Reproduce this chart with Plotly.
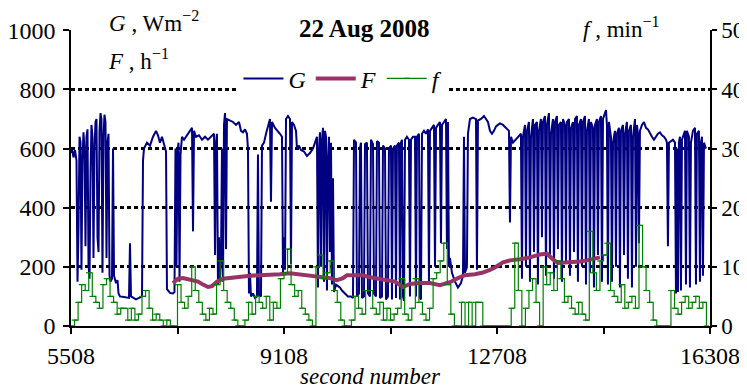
import plotly.graph_objects as go

# ---------------- data ----------------
# G : global irradiance, W m^-2 (left axis), irregular sample times (s)
g_time = [
    5508, 5525, 5550, 5576, 5601, 5618, 5635, 5652, 5669, 5685, 5702, 5719, 5736, 5753, 5770, 5787,
    5804, 5821, 5838, 5854, 5871, 5888, 5905, 5922, 5939, 5956, 5973, 5990, 6007, 6023, 6040, 6057,
    6074, 6091, 6108, 6125, 6142, 6159, 6176, 6201, 6218, 6235, 6269, 6294, 6311, 6336, 6404, 6488,
    6505, 6522, 6607, 6674, 6708, 6725, 6742, 6792, 6843, 6894, 6945, 6978, 7012, 7046, 7080, 7114,
    7130, 7181, 7232, 7257, 7274,
    7291, 7308, 7325, 7342, 7359, 7384, 7418, 7452, 7485, 7519, 7553, 7570, 7587, 7621, 7671, 7722,
    7773, 7823, 7874, 7925, 7942, 7959, 7975, 7992, 8009, 8026, 8043, 8060, 8077, 8094, 8111, 8128,
    8144, 8195, 8246, 8297, 8347, 8381, 8415, 8449, 8482, 8499, 8516, 8533, 8550, 8584, 8618, 8651,
    8668, 8685, 8719, 8736, 8770, 8804, 8837, 8871, 8888, 8905, 8956, 9006, 9040, 9074, 9091, 9108,
    9125, 9142, 9175,
    9209, 9226, 9243, 9277, 9311, 9327, 9361, 9395, 9446, 9496, 9547, 9598, 9632, 9665, 9682, 9699,
    9716, 9733, 9750, 9767, 9784, 9801, 9818, 9834, 9851, 9868, 9885, 9902, 9919, 9936, 9953, 9987,
    10020, 10054, 10088, 10139, 10189, 10240, 10274, 10291, 10325, 10341, 10375, 10392, 10409, 10426,
    10460, 10477, 10510, 10527, 10561, 10578, 10612, 10629, 10663, 10679, 10713, 10730, 10764, 10781,
    10815, 10832, 10865, 10882, 10916,
    10933, 10950, 10984, 11001, 11017, 11051, 11068, 11085, 11102, 11119, 11136, 11153, 11186, 11220,
    11237, 11254, 11288, 11322, 11339, 11355, 11389, 11406, 11423, 11440, 11474, 11508, 11541, 11558,
    11575, 11609, 11643, 11660, 11677, 11710, 11744, 11761, 11778, 11812, 11846, 11862, 11879, 11896,
    11913, 11947, 11998, 12048, 12099, 12133, 12150, 12167, 12200, 12217, 12251, 12302, 12353, 12369,
    12386, 12437, 12488, 12522, 12555, 12589, 12623, 12657, 12691, 12724,
    12758, 12809, 12860, 12910, 12927, 12944, 12978, 13029, 13079, 13113, 13130, 13147, 13181, 13198,
    13214, 13248, 13265, 13282, 13316, 13333, 13350, 13383, 13400, 13417, 13451, 13468, 13485, 13519,
    13536, 13552, 13586, 13603, 13620, 13654, 13671, 13688, 13721, 13738, 13755, 13789, 13806, 13823,
    13857, 13874, 13890, 13924, 13941, 13958, 13992, 14009, 14026, 14059, 14076, 14093, 14127, 14144,
    14161, 14195, 14212, 14228, 14262, 14279, 14296, 14330, 14347, 14364, 14397, 14414, 14431, 14465,
    14482, 14499, 14533,
    14550, 14566, 14583, 14600, 14634, 14651, 14668, 14702, 14719, 14735, 14769, 14786, 14803, 14837,
    14854, 14871, 14904, 14921, 14938, 14972, 14989, 15006, 15040, 15057, 15073, 15090, 15107, 15124,
    15158, 15192, 15226, 15259, 15293, 15327, 15361, 15395, 15428, 15462, 15496, 15530, 15564, 15580,
    15597, 15614, 15648, 15682, 15716, 15733, 15749, 15766, 15783, 15800, 15817, 15834, 15868, 15885,
    15902, 15918, 15952, 15969, 15986, 16020, 16054, 16071, 16087, 16121, 16138, 16155, 16172, 16189,
    16206, 16240,
]
g_value = [
    585, 600, 570, 595, 560, 150, 330, 640, 620, 190, 560, 655, 600, 270, 640, 665,
    210, 160, 520, 680, 640, 230, 600, 690, 700, 300, 250, 660, 720, 700, 180, 640,
    715, 690, 230, 620, 650, 170, 150, 160, 600, 170, 145, 155, 110, 100, 98, 95,
    280, 100, 90, 95, 100, 560, 600, 620, 610, 640, 660, 645, 620, 640, 610, 590,
    125, 112, 110, 115, 600,
    200, 590, 620, 150, 580, 640, 630, 640, 650, 660, 670, 320, 660, 640, 645, 630,
    640, 630, 640, 650, 240, 620, 650, 140, 300, 150, 230, 600, 150, 680, 720, 260,
    700, 695, 690, 680, 690, 660, 655, 665, 650, 600, 110, 180, 100, 110, 95, 100,
    580, 105, 100, 610, 620, 650, 680, 700, 420, 690, 670, 660, 650, 640, 180, 300,
    190, 700, 710,
    700, 210, 690, 680, 660, 600, 610, 595, 590, 575, 585, 600, 620, 640, 130, 600,
    655, 200, 630, 670, 150, 660, 640, 120, 560, 640, 250, 620, 140, 500, 115, 140,
    135, 130, 120, 110, 100, 100, 95, 630, 620, 100, 110, 600, 620, 95,
    100, 615, 620, 110, 100, 630, 615, 110, 100, 625, 620, 95, 100, 610,
    600, 90, 100, 600, 610,
    90, 600, 610, 95, 610, 620, 90, 620, 630, 100, 85, 630, 640, 630,
    100, 630, 640, 640, 100, 640, 650, 95, 90, 650, 660, 650, 665, 150,
    660, 670, 680, 200, 670, 680, 690, 280, 680, 690, 700, 260, 690, 200,
    230, 180, 150, 130, 145, 170, 640, 180, 200, 650, 700, 705, 700, 190,
    695, 700, 710, 700, 690, 660, 650, 660, 675, 680,
    685, 680, 670, 660, 350, 640, 620, 630, 640, 650, 160, 640, 680, 200,
    660, 690, 150, 640, 700, 250, 680, 690, 140, 660, 700, 300, 690, 710,
    170, 680, 720, 230, 650, 700, 160, 690, 710, 260, 680, 690, 150, 700,
    680, 220, 690, 700, 170, 670, 690, 250, 700, 710, 150, 680, 700, 200,
    690, 710, 140, 660, 700, 180, 690, 670, 130, 680, 700, 240, 690, 710,
    150, 700, 720,
    730, 680, 140, 690, 640, 150, 620, 660, 200, 650, 670, 130, 660, 680,
    240, 650, 690, 160, 660, 680, 130, 640, 700, 200, 680, 650, 280, 660,
    680, 690, 670, 665, 650, 640, 630, 640, 650, 655, 645, 640, 630, 620,
    270, 620, 625, 630, 620, 110, 600, 115, 620, 640, 120, 630, 650, 660,
    140, 660, 640, 130, 620, 660, 670, 140, 650, 660, 150, 620, 640, 170,
    620, 600,
]

# F : h^-1 (left axis)
F_time = [7232, 7316, 7401, 7485, 7570, 7654, 7739, 7823, 7891, 7975, 8077, 8195, 8364, 8533,
          8702, 8871, 9040, 9209, 9378, 9547, 9716, 9885, 10003, 10105, 10172, 10308, 10426,
          10561, 10730, 10899, 10984, 11119, 11237, 11406, 11575, 11744, 11913, 12048, 12167,
          12336, 12454, 12589, 12674, 12809, 12927, 13096, 13265, 13434, 13552, 13654, 13738,
          13857, 13992, 14110, 14228, 14330, 14448]
F_value = [145, 160, 162, 158, 155, 150, 140, 132, 135, 150, 160, 163, 165, 170,
           172, 172, 175, 178, 174, 172, 168, 162, 155, 162, 172, 173, 172,
           165, 160, 155, 150, 132, 142, 145, 145, 138, 148, 162, 172,
           175, 180, 190, 198, 215, 222, 226, 232, 242, 245, 225, 213,
           215, 216, 218, 222, 226, 232]

# f : min^-1 (right axis), one value per minute from second 5508
f_start = 5508
f_step = 60
f_value = [
    0, 1, 4, 7, 6, 9, 5, 4, 3, 7, 8, 5, 4, 2, 3, 3, 1, 3, 1, 2,
    5, 6, 3, 1, 2, 1, 0, 1, 0, 0, 7, 4, 3, 5, 10, 6, 4, 2, 1, 3,
    2, 7, 11, 6, 4, 3, 1, 0, 0, 1, 4, 2, 5, 4, 3, 5, 1, 4, 3, 8,
    9, 13, 7, 5, 6, 3, 2, 1, 0, 10, 12, 8, 9, 11, 6, 4, 1, 0, 0, 1,
    5, 3, 2, 6, 6, 3, 2, 4, 1, 3, 1, 2, 3, 8, 2, 1, 3, 8, 4, 2,
    1, 3, 8, 9, 11, 14, 7, 2, 0, 0, 4, 0, 4, 0, 4, 4, 0, 0, 0, 0,
    0, 0, 0, 0, 3, 14, 6, 0, 3, 6, 8, 4, 0, 10, 7, 9, 6, 11, 8, 4,
    5, 3, 2, 4, 2, 1, 16, 9, 6, 11, 12, 14, 6, 5, 4, 7, 3, 4, 5, 3,
    17, 10, 6, 4, 1, 0, 0, 0, 0, 6, 3, 2, 4, 5, 3, 4, 5, 3, 4, 0,
]
f_time = [f_start + f_step * i for i in range(len(f_value))]

x_tickvals = [5508, 9108, 12708, 16308]
x_ticktext = ["5508", "9108", "12708", "16308"]

# ---------------- figure ----------------
FONT = "Liberation Serif"
NAVY = "#000080"
MAROON = "#993366"
GREEN = "#008000"

fig = go.Figure()
fig.add_trace(go.Scatter(x=g_time, y=g_value, mode="lines", name="<i>G</i>",
                         line=dict(color=NAVY, width=2)))
fig.add_trace(go.Scatter(x=F_time, y=F_value, mode="lines", name="<i>F</i>",
                         line=dict(color=MAROON, width=4)))
fig.add_trace(go.Scatter(x=f_time, y=f_value, mode="lines+markers", name="<i>f</i>",
                         yaxis="y2", line=dict(color=GREEN, width=1.2, shape="hv"),
                         marker=dict(symbol="line-ew-open", size=4,
                                     line=dict(color=GREEN, width=1.2))))

axis_common = dict(showline=True, linecolor="black", linewidth=1.5,
                   ticks="outside", tickcolor="black", tickwidth=1.5,
                   zeroline=False, automargin=False)

# the page body adds an 8px offset, so the figure is 8px smaller than the window
fig.update_layout(
    width=739, height=380,
    margin=dict(l=63, r=37, t=22, b=62, autoexpand=False),
    paper_bgcolor="white", plot_bgcolor="white",
    font=dict(family=FONT, size=22, color="black"),
    showlegend=True,
    legend=dict(orientation="h", x=0.262, xanchor="left", y=0.835, yanchor="middle",
                bgcolor="white", font=dict(family=FONT, size=24, color="black"),
                itemwidth=40, tracegroupgap=0),
    xaxis=dict(range=[5508, 16308], tickvals=x_tickvals, ticktext=x_ticktext,
               showgrid=False, ticklabelstandoff=1, ticklen=6,
               tickfont=dict(family=FONT, size=24, color="black"),
               minor=dict(tick0=5508, dtick=1800, ticks="outside", ticklen=6,
                          tickcolor="black", tickwidth=1.5),
               **axis_common),
    yaxis=dict(range=[0, 1001], tickvals=[0, 200, 400, 600, 800, 1000], showgrid=True,
               gridcolor="black", gridwidth=2.5, griddash="4px,3px",
               ticklabelstandoff=3, ticklen=6,
               tickfont=dict(family=FONT, size=24, color="black"), **axis_common),
    yaxis2=dict(range=[0, 50.05], tickvals=[0, 10, 20, 30, 40, 50], overlaying="y",
                side="right", showgrid=False, ticklabelstandoff=0, ticklen=5,
                tickfont=dict(family=FONT, size=23, color="black"), **axis_common),
    annotations=[
        dict(text="<i>G</i> , Wm<sup>−2</sup>", xref="paper", yref="paper",
             x=0.13, y=1.03, xanchor="center", yanchor="middle", showarrow=False,
             bgcolor="white", borderpad=3, font=dict(family=FONT, size=23)),
        dict(text="<i>F</i> , h<sup>−1</sup>", xref="paper", yref="paper",
             x=0.105, y=0.9, xanchor="center", yanchor="middle", showarrow=False,
             font=dict(family=FONT, size=23)),
        dict(text="<b>22 Aug 2008</b>", xref="paper", yref="paper",
             x=0.46, y=1.005, xanchor="center", yanchor="middle", showarrow=False,
             bgcolor="white", borderpad=6, font=dict(family=FONT, size=25)),
        dict(text="<i>f</i> , min<sup>−1</sup>", xref="paper", yref="paper",
             x=0.862, y=1.01, xanchor="center", yanchor="middle", showarrow=False,
             bgcolor="white", borderpad=3, font=dict(family=FONT, size=23)),
        dict(text="<i>second number</i>", xref="paper", yref="paper",
             x=0.468, y=-0.17, xanchor="center", yanchor="middle", showarrow=False,
             font=dict(family=FONT, size=23)),
    ],
)

fig.write_html("out.html")
